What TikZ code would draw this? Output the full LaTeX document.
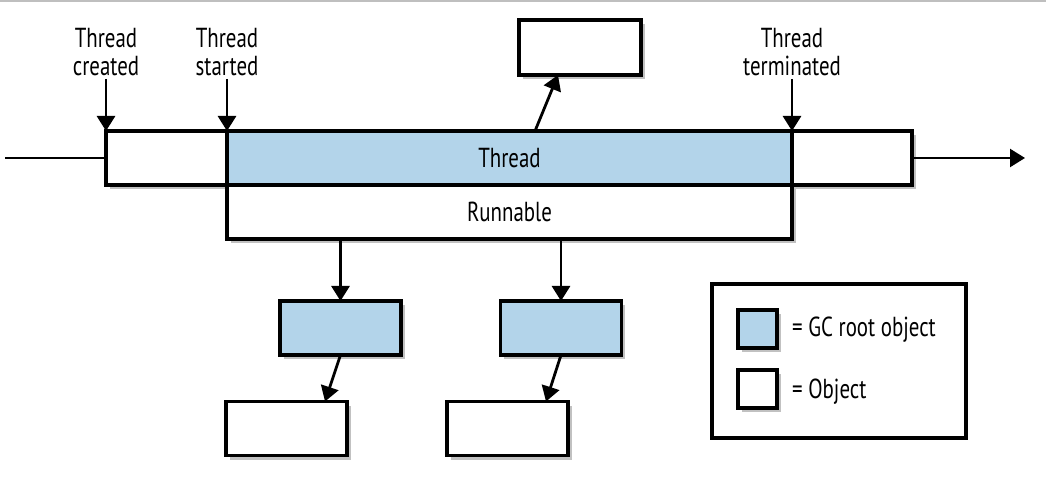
\documentclass[tikz,border=0pt]{standalone}
\usepackage{fontspec}
\setmainfont{PT Sans}[FakeStretch=0.76]
\usetikzlibrary{arrows.meta,shadows}
\definecolor{rootblue}{RGB}{179,212,234}

\begin{document}
\begin{tikzpicture}[x=1pt,y=1pt,
	font=\fontsize{27.5}{28}\selectfont,
	box/.style={draw,line width=3.2pt,rectangle,inner sep=0,outer sep=0,minimum width=121pt,minimum height=54pt,
		drop shadow={shadow xshift=3.5pt,shadow yshift=-4.5pt,fill=black!70,opacity=0.35}},
	rootbox/.style={box,fill=rootblue},
	objbox/.style={box,fill=white},
	arr/.style={-{Triangle[width=18pt,length=15pt]},line width=2.8pt},
	tag/.style={align=center,inner sep=3pt}]
	\useasboundingbox (0,0) rectangle (1046,484);
	\draw[black!25,line width=1.5pt] (0,483) -- (1046,483);
	% timeline
	\coordinate (tstart) at (5,326);
	\coordinate (tend) at (1025,326);
	\node[objbox] (created) at (166.5,326) {};
	\node[rootbox,minimum width=565pt] (thread) at (509.5,326) {Thread};
	\node[objbox,minimum width=120pt] (terminated) at (852,326) {};
	\node[objbox,minimum width=565pt] (runnable) at (509.5,272) {Runnable};
	\draw[line width=2.4pt] (tstart) -- (created.west);
	\draw[arr,line width=2.4pt] (terminated.east) -- (tend);
	% labels
	\node[tag] (lcreated) at (106,432) {Thread\\created};
	\node[tag] (lstarted) at (227,432) {Thread\\started};
	\node[tag] (lterminated) at (792,432) {Thread\\terminated};
	\draw[arr] (lcreated.south) -- (created.north west);
	\draw[arr] (lstarted.south) -- (thread.north west);
	\draw[arr] (lterminated.south) -- (thread.north east);
	% referenced objects
	\node[objbox,minimum width=122pt,minimum height=55pt] (top) at (580,436.5) {};
	\node[rootbox] (root1) at (340.5,156) {};
	\node[rootbox] (root2) at (561,156) {};
	\node[objbox] (obj1) at (286.5,55.5) {};
	\node[objbox] (obj2) at (507.5,55.5) {};
	\draw[arr] ([xshift=25.5pt]thread.north) -- ([xshift=-22pt]top.south);
	\draw[arr] (runnable.south -| root1) -- (root1.north);
	\draw[arr] (runnable.south -| root2) -- (root2.north);
	\draw[arr] (root1.south) -- ([xshift=38.5pt]obj1.north);
	\draw[arr] (root2.south) -- ([xshift=38.5pt]obj2.north);
	% legend
	\node[draw,line width=3.2pt,rectangle,minimum width=254pt,minimum height=154pt] (legend) at (839,123) {};
	\node[rootbox,minimum width=39pt,minimum height=38pt] (lroot) at (757.5,155) {};
	\node[objbox,minimum width=39pt,minimum height=38pt] (lobj) at (757.5,95) {};
	\node[anchor=west,inner sep=0] (troot) at (792,154) {= GC root object};
	\node[anchor=west,inner sep=0] (tobj) at (792,92) {= Object};
\end{tikzpicture}
\end{document}
